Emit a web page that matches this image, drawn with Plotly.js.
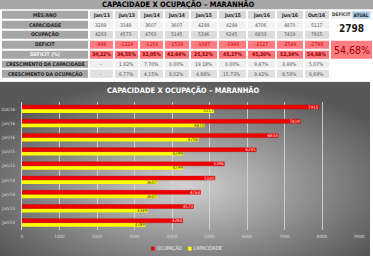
<!DOCTYPE html>
<html><head><meta charset="utf-8">
<script src="https://cdn.plot.ly/plotly-3.0.1.min.js"></script>
<style>html,body{margin:0;padding:0;background:#fff;}#c{width:373px;height:256px;}</style>
</head><body><div id="c"></div>
<script>
// ---- data ----
const months = ['Jan/13','Jun/13','Jan/14','Jun/14','Jan/15','Jun/15','Jan/16','Jun/16','Out/16'];
const capacidade = [3289,3349,3607,3607,4299,4299,4706,4870,5117];
const ocupacao = [4283,4573,4763,5145,5396,6245,6833,7419,7915];
const deficit = [-994,-1224,-1156,-1538,-1097,-1946,-2127,-2549,-2798];
const deficitPct = ['30,22%','36,55%','32,05%','42,64%','25,52%','45,27%','45,20%','52,34%','54,68%'];
const crescCap = ['-','1,82%','7,70%','0,00%','19,18%','0,00%','9,47%','3,48%','5,07%'];
const crescOcup = ['-','6,77%','4,15%','8,02%','4,88%','15,73%','9,42%','8,58%','6,69%'];
const rowLabels = ['MÊS/ANO','CAPACIDADE','OCUPAÇÃO','DEFICIT','DEFICIT (%)','CRESCIMENTO DA CAPACIDADE','CRESCIMENTO DA OCUPAÇÃO'];
const deficitAtual = '2798';
const deficitAtualPct = '54,68%';
const titleText = 'CAPACIDADE X OCUPAÇÃO – MARANHÃO';
const xTicks = [0,1000,2000,3000,4000,5000,6000,7000,8000,9000];

// ---- styles ----
const FF = '"Liberation Sans Narrow","Arial Narrow","DejaVu Sans Condensed","Liberation Sans",Arial,sans-serif';
const W = 373, H = 256;
const colEdges = [1,89,113.5,138.5,163.5,189.5,217.5,246.5,275.5,303.5,330];
const lastEdges = [330,373];
const rowEdges = [9.7,19.6,29.5,39.4,49.3,59.2,69.1,79.0];
const palette = ['#a6a6a6','#d9d9d9','#f2f2f2','#dcdcdc','#ff7c80','#ff7478','#eeeeee','#e0e0e0','#ffffff'];
const rowStyle = [[0,1],[0,2],[0,3],[0,4],[0,5],[0,6],[0,7]];

const rowsText = [
  months,
  capacidade.map(String),
  ocupacao.map(String),
  deficit.map(String),
  deficitPct,
  crescCap,
  crescOcup
];
const rowFont = [
  {b:true,  color:'#262626', size:5},
  {b:false, color:'#595959', size:5},
  {b:false, color:'#595959', size:5},
  {b:false, color:'#c00000', size:5},
  {b:true,  color:'#800000', size:5},
  {b:false, color:'#595959', size:5},
  {b:false, color:'#595959', size:5}
];

const z = rowStyle.map(([a,b]) => [a].concat(months.map(()=>b)));
const nPal = palette.length - 1;
const cscale = palette.map((c,i)=>[i/nPal, c]);

const traces = [];
traces.push({
  type:'heatmap', xaxis:'x2', yaxis:'y2',
  x: colEdges, y: rowEdges, z: z,
  zmin:0, zmax:nPal, colorscale:cscale, showscale:false,
  xgap:2, ygap:2, hoverinfo:'skip'
});
traces.push({
  type:'heatmap', xaxis:'x2', yaxis:'y2',
  x: lastEdges, y: [rowEdges[0], rowEdges[1], rowEdges[3], rowEdges[5]],
  z: [[6],[8],[4]],
  zmin:0, zmax:nPal, colorscale:cscale, showscale:false,
  xgap:2, ygap:2, hoverinfo:'skip'
});

traces.push({
  type:'bar', orientation:'h', name:'CAPACIDADE',
  y: months, x: capacidade, text: capacidade.map(String),
  textposition:'inside', insidetextanchor:'end', constraintext:'none',
  textfont:{size:4.5, color:'#404040', family:FF},
  marker:{color:'#ffff00'}, hoverinfo:'skip', xaxis:'x', yaxis:'y'
});
traces.push({
  type:'bar', orientation:'h', name:'OCUPAÇÃO',
  y: months, x: ocupacao, text: ocupacao.map(String),
  textposition:'inside', insidetextanchor:'end', constraintext:'none',
  textfont:{size:4.5, color:'#ffe0e0', family:FF},
  marker:{color:'#ee0000', line:{color:'#c00000', width:0.4}}, hoverinfo:'skip', xaxis:'x', yaxis:'y'
});

const ann = [];
const cx = i => (colEdges[i]+colEdges[i+1])/2;
const cy = r => (rowEdges[r]+rowEdges[r+1])/2;
rowLabels.forEach((lab, r) => {
  ann.push({xref:'x2', yref:'y2', x:cx(0), y:cy(r), text:'<b>'+lab+'</b>', showarrow:false,
    font:{family:FF, size:5, color: r===4 ? '#f5f5f5' : '#262626'}});
  rowsText[r].forEach((t, c) => {
    const f = rowFont[r];
    ann.push({xref:'x2', yref:'y2', x:cx(c+1), y:cy(r), text: f.b ? '<b>'+t+'</b>' : t, showarrow:false,
      font:{family:FF, size:f.size, color:f.color}});
  });
});
ann.push({xref:'x2', yref:'y2', x:351.5, xanchor:'right', y:cy(0), text:'<b>DEFICIT</b>', showarrow:false,
  font:{family:FF, size:4.7, color:'#404040'}});
ann.push({xref:'x2', yref:'y2', x:352, xanchor:'left', y:cy(0), text:'<b>ATUAL</b>', showarrow:false,
  bgcolor:'#a9c8e8', borderpad:0.5, font:{family:FF, size:4.7, color:'#262626'}});
ann.push({xref:'x2', yref:'y2', x:(lastEdges[0]+lastEdges[1])/2, y:(rowEdges[1]+rowEdges[3])/2 - 1, text:'<b>'+deficitAtual+'</b>', showarrow:false,
  font:{family:FF, size:10, color:'#1a1a1a'}});
ann.push({xref:'x2', yref:'y2', x:(lastEdges[0]+lastEdges[1])/2, y:(rowEdges[3]+rowEdges[5])/2 + 1, text:deficitAtualPct, showarrow:false,
  font:{family:FF, size:10.5, color:'#9c0006'}});
ann.push({xref:'x2', yref:'y2', x:178, y:4.8, text:'<b>'+titleText+'</b>', showarrow:false,
  font:{family:FF, size:7.5, color:'#000000'}});
ann.push({xref:'x2', yref:'y2', x:183, y:90.5, text:'<b>'+titleText+'</b>', showarrow:false,
  font:{family:FF, size:7.5, color:'#ffffff'}});
ann.push({xref:'x2', yref:'y2', x:186, y:247.5,
  text:'<span style="color:#ee0000">■</span> OCUPAÇÃO    <span style="color:#ffff00">■</span> CAPACIDADE',
  showarrow:false, font:{family:FF, size:5, color:'#f2f2f2'}});

const svg = "<svg xmlns='http://www.w3.org/2000/svg' width='370' height='175' viewBox='0 0 370 175'>" +
  "<defs><radialGradient id='g' cx='0.5' cy='0.6' r='0.62'>" +
  "<stop offset='0' stop-color='#d2d2d2'/><stop offset='0.55' stop-color='#8e8e8e'/><stop offset='1' stop-color='#585858'/></radialGradient></defs>" +
  "<rect width='370' height='175' fill='url(#g)'/></svg>";
const bgTop = 81.7;

const layout = {
  width:W, height:H, margin:{l:0,r:0,t:0,b:0,pad:0},
  paper_bgcolor:'#ffffff', plot_bgcolor:'rgba(0,0,0,0)',
  showlegend:false, barmode:'group', bargap:0.44, bargroupgap:0,
  font:{family:FF},
  xaxis:{domain:[22/W, 359.5/W], range:[0,9000], anchor:'y', tickvals:xTicks,
    showgrid:true, gridcolor:'rgba(215,215,215,0.85)', gridwidth:1, zeroline:false, showline:false,
    ticks:'', tickfont:{size:4.5, color:'#dcdcdc', family:FF}, ticklabelstandoff:3, fixedrange:true},
  yaxis:{domain:[(H-229.8)/H, (H-101.9)/H], anchor:'x', type:'category', categoryorder:'array', categoryarray:months,
    showline:true, linecolor:'#d9d9d9', linewidth:1, showgrid:false, zeroline:false,
    ticks:'', tickfont:{size:4.5, color:'#dcdcdc', family:FF}, ticklabelstandoff:5, fixedrange:true},
  xaxis2:{domain:[0,1], range:[0,W], anchor:'y2', visible:false, fixedrange:true},
  yaxis2:{domain:[0,1], range:[H,0], anchor:'x2', visible:false, fixedrange:true},
  shapes:[
    {type:'rect', xref:'x2', yref:'y2', x0:0, x1:W, y0:0, y1:9.3, fillcolor:'#a6a6a6', line:{width:0}, layer:'below'}
  ],
  images:[{source:'data:image/svg+xml;charset=utf-8,'+encodeURIComponent(svg),
    xref:'paper', yref:'paper', x:0, y:(H-bgTop)/H, sizex:370/W, sizey:(H-bgTop)/H,
    xanchor:'left', yanchor:'top', sizing:'stretch', layer:'below'}],
  annotations:ann
};
Plotly.newPlot('c', traces, layout, {staticPlot:true, displayModeBar:false});
</script></body></html>
